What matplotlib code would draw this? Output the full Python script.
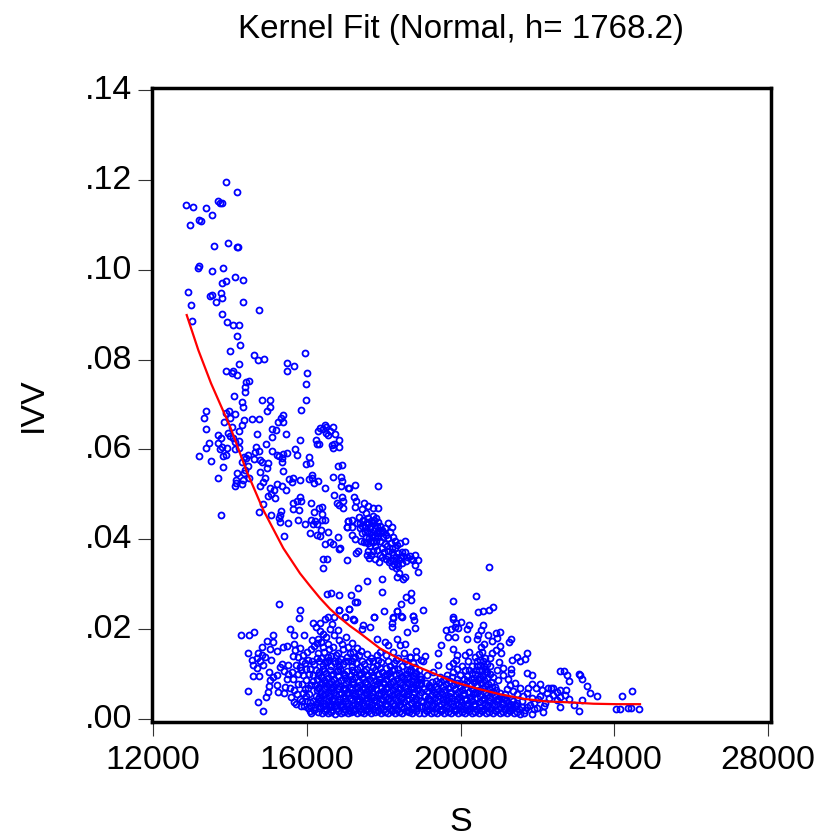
import matplotlib
matplotlib.use("Agg")
import matplotlib.pyplot as plt
from matplotlib.transforms import ScaledTranslation

plt.rcParams['font.family'] = ['Liberation Sans', 'DejaVu Sans']

# points above the main cloud, (S, IVV)
top_points = [
    (13891,.1196),(14178,.1172),(12851,.1143),(13041,.1139),(13379,.1137),(13699,.1152),(13751,.1149),(13803,.1149),
    (13527,.1122),(13205,.1111),(13249,.1109),(12970,.1099),(13579,.1053),(13959,.1059),(14178,.1050),(14211,.1051),
    (13205,.1009),(13163,.1004),(13543,.0998),(13829,.1003),(14126,.0984),(14350,.0976),(13803,.0971),(13899,.0974),
    (12919,.0950),(13483,.0941),(13543,.0943),(13777,.0949),(13795,.0937),(13647,.0928),(14350,.0927),(12996,.0921),
    (14758,.0910),(13803,.0901),(13007,.0886),(13933,.0884),(14082,.0877),(14230,.0877),(14186,.0852),(14271,.0833),
    (14011,.0820),(14636,.0810),(14724,.0799),(14880,.0802),(15955,.0815),(14238,.0789),(15487,.0792),(15669,.0786),
]

# steep left part of the cloud
middle_points = [
    (13891,.0775),(14073,.0775),(14047,.0769),(14177,.0765),(15496,.0775),(16003,.0769),(15990,.0745),(14411,.0751),
    (14507,.0752),(14394,.0738),(14403,.0728),(14108,.0718),(15981,.0711),(14845,.0709),(15045,.0709),(14307,.0705),
    (14342,.0694),(15045,.0694),(14967,.0685),(15843,.0687),(13388,.0685),(13336,.0671),(13891,.0680),(13978,.0686),
    (14143,.0678),(13995,.0669),(14377,.0665),(14576,.0668),(14767,.0668),(15392,.0677),(15322,.0669),(15262,.0660),
    (15383,.0662),(13856,.0660),(14325,.0654),(14047,.0649),(13371,.0646),(14238,.0642),(13943,.0637),(13683,.0631),
    (14698,.0635),(15105,.0645),(15201,.0643),(15461,.0635),(15097,.0627),(13761,.0625),(13700,.0615),(14004,.0630),
    (14073,.0625),(14134,.0617),(14229,.0619),(13449,.0614),(13388,.0604),(13206,.0585),(13518,.0575),(13787,.0606),
    (13744,.0600),(13934,.0603),(14134,.0601),(14247,.0604),(14947,.0612),(15817,.0622),(14680,.0605),(14758,.0597),
    (14654,.0595),(15105,.0597),(15695,.0600),(15756,.0587),(15487,.0593),(15383,.0590),(15287,.0585),(15218,.0588),
    (15348,.0580),(15357,.0572),(16059,.0583),(15990,.0567),(16094,.0570),(13813,.0585),(13900,.0588),(14360,.0582),
    (14481,.0587),(14411,.0580),(14307,.0572),(14481,.0562),(14628,.0578),(14784,.0576),(14836,.0572),(15001,.0570),
    (14967,.0559),(13830,.0560),(15392,.0553),(14394,.0554),(14368,.0548),(14784,.0549),(14186,.0548),(13683,.0537),
    (14490,.0536),(14151,.0531),(14351,.0532),(14325,.0522),(14125,.0519),(14160,.0525),(14915,.0536),(14863,.0528),
    (14784,.0518),(15218,.0524),(15045,.0515),(15158,.0509),(15366,.0519),(15461,.0509),(15001,.0497),(15062,.0500),
    (15184,.0491),(15530,.0534),(15634,.0537),(15608,.0528),(15817,.0532),(16068,.0535),(16146,.0544),(16190,.0526),
    (16137,.0536),(16294,.0530),(16467,.0515),(16684,.0539),(16901,.0539),(16927,.0529),(16901,.0518),(17074,.0515),
    (16823,.0562),(16910,.0565),(16710,.0498),(16927,.0494),(16788,.0480),(16953,.0486),(16840,.0476),(16935,.0470),
    (14871,.0479),(14750,.0460),(13770,.0454),(15079,.0454),(15331,.0463),(15296,.0454),(15279,.0447),(15314,.0438),
    (15504,.0436),(15634,.0481),(15825,.0493),(15738,.0486),(15860,.0485),(15652,.0467),(15808,.0465),(15773,.0444),
    (15955,.0435),(16103,.0481),(16406,.0472),(16328,.0470),(16198,.0460),(16389,.0457),(16103,.0444),(16398,.0442),
    (16484,.0442),(16216,.0441),(16155,.0434),(16259,.0435),(17066,.0440),(17057,.0428),(16380,.0421),(16545,.0417),
    (16086,.0413),(16276,.0409),(16354,.0408),(16805,.0406),(15409,.0407),(16476,.0390),(16597,.0394),(16693,.0390),
    (16857,.0380),(16476,.0654),(16354,.0648),(16294,.0640),(16693,.0650),(16502,.0636),(16562,.0632),(16745,.0634),
    (16831,.0621),(16840,.0606),(16233,.0620),(16276,.0613),(16311,.0612),(16649,.0610),(16675,.0604),(16718,.0613),
    (16431,.0645),(16510,.0650),(16600,.0641),
]

# dense bunch around S = 17700, IVV = .04, and what hangs below it
bunch_points = [
    (17846,.0519),(17256,.0521),(17091,.0514),(17221,.0493),(17282,.0486),(17499,.0480),(17594,.0474),(17430,.0467),
    (17265,.0471),(17716,.0470),(17846,.0470),(17551,.0459),(17352,.0449),(17169,.0444),(17083,.0441),(17039,.0428),
    (17169,.0428),(17299,.0436),(17386,.0424),(17473,.0443),(17603,.0447),(17716,.0452),(17802,.0447),(17863,.0439),
    (17733,.0436),(17603,.0434),(17516,.0428),(17646,.0424),(17776,.0424),(17907,.0430),(17950,.0421),(18123,.0436),
    (18210,.0427),(18167,.0417),(18037,.0424),(17430,.0413),(17542,.0406),(17690,.0410),(17169,.0409),(17256,.0400),
    (17412,.0397),(17516,.0417),(17863,.0406),(17993,.0406),(18123,.0402),(18253,.0404),(18297,.0397),(17907,.0397),
    (17733,.0395),(17603,.0392),(18037,.0390),(18184,.0391),(18427,.0392),(18557,.0396),(17646,.0384),(17776,.0385),
    (17950,.0380),(17603,.0375),(17716,.0375),(18123,.0375),(18297,.0380),(17577,.0365),(17907,.0365),(17967,.0361),
    (18123,.0363),(18253,.0365),(18167,.0354),(18253,.0354),(18384,.0369),(18470,.0372),(18557,.0372),(18496,.0363),
    (18687,.0363),(18817,.0365),(18886,.0353),(18704,.0356),(18817,.0343),(18583,.0351),(18410,.0354),(18340,.0345),
    (18384,.0341),(17889,.0349),(17282,.0370),(17343,.0373),(17039,.0354),(16848,.0378),(16432,.0357),(16519,.0357),
    (16415,.0335),(18886,.0328),(18410,.0324),(18340,.0315),(18557,.0315),(18496,.0311),(17950,.0312),(17568,.0308),
    (17325,.0292),(17950,.0283),(16519,.0279),(16623,.0280),(16848,.0276),(17152,.0276),(17299,.0260),(17256,.0260),
    (16840,.0243),(17109,.0245),(18019,.0241),(18358,.0241),(18444,.0255),(18583,.0272),(18722,.0280),(18704,.0264),
    (19017,.0242),(18453,.0229),(18765,.0230),(18253,.0226),(17750,.0226),(17213,.0223),(16996,.0227),(19815,.0262),
    (20404,.0273),(20751,.0339),(20855,.0249),(20743,.0243),(20587,.0241),(20464,.0238),(19797,.0226),(17700,.0405),
    (17820,.0415),(17470,.0440),(17560,.0418),(17660,.0440),(17780,.0408),(17860,.0420),(17620,.0402),(17480,.0395),
    (17380,.0437),(17450,.0429),(17560,.0439),(17610,.0415),(17680,.0430),(17750,.0442),(17830,.0430),(17900,.0413),
    (17990,.0416),(18060,.0409),(17540,.0395),(17660,.0397),(17800,.0396),(17830,.0377),(17680,.0366),(18010,.0372),
    (18090,.0385),(18210,.0381),(18350,.0387),(18230,.0372),(18060,.0357),(18310,.0361),(18420,.0360),(18470,.0348),
    (18280,.0345),(18620,.0361),(18760,.0354),(17620,.0358),(17770,.0356),(18130,.0349),(18210,.0340),(18330,.0336),
]

# loose points around the lower left cloud
lower_left_points = [
    (15287,.0255),(15825,.0243),(15807,.0225),(14289,.0188),(14498,.0187),(14636,.0194),(15113,.0188),(14957,.0174),
    (15122,.0171),(14844,.0161),(14463,.0147),(15053,.0155),(15235,.0151),(15391,.0161),(15478,.0163),(15573,.0200),
    (15677,.0186),(15920,.0186),(16154,.0214),(15668,.0168),(15825,.0157),(15694,.0154),(15634,.0141),(14740,.0148),
    (14827,.0142),(14914,.0139),(14697,.0135),(14567,.0131),(14784,.0128),(15070,.0131),(14610,.0120),(14870,.0120),
    (14714,.0113),(14610,.0096),(14758,.0096),(15018,.0104),(15235,.0098),(15365,.0122),(15044,.0087),(15304,.0116),
    (15131,.0094),(15009,.0073),(15217,.0076),(14480,.0063),(14983,.0059),(15261,.0061),(15408,.0057),(14931,.0048),
    (14740,.0038),(14870,.0018),(15521,.0120),(15608,.0105),(15521,.0100),(15634,.0088),(15434,.0071),(15668,.0065),
    (15564,.0068),(15668,.0038),(15720,.0034),(15850,.0029),(15825,.0045),(15911,.0057),(15781,.0079),(15911,.0098),
    (15825,.0116),(15781,.0139),(15911,.0142),(15955,.0124),(16041,.0068),(16085,.0038),(16041,.0131),(16128,.0176),
    (16301,.0179),(16345,.0213),(16475,.0222),(16562,.0226),(16839,.0243),(16709,.0228),(17108,.0245),(16995,.0226),
    (17238,.0220),(17455,.0210),(17438,.0200),(17655,.0205),(17759,.0226),(18253,.0224),(18210,.0213),(18210,.0204),
    (18357,.0241),(18470,.0228),(18773,.0229),(18790,.0220),(18817,.0202),(18600,.0194),(17828,.0177),(18036,.0171),
    (18123,.0165),(18340,.0179),(18426,.0165),(18556,.0167),(17819,.0142),(16430,.0190),(16610,.0200),(16720,.0187),
    (16200,.0162),(16380,.0172),(16540,.0168),(16690,.0160),(16850,.0175),(17010,.0183),(17190,.0170),(17300,.0158),
    (16140,.0128),(16290,.0146),(16460,.0150),(16640,.0140),(16800,.0148),(16950,.0155),(17120,.0147),(17260,.0138),
    (17420,.0152),(17580,.0144),(17720,.0130),(17900,.0150),(18060,.0142),(18240,.0150),(18380,.0136),(18530,.0146),
    (18690,.0139),(18850,.0152),(18980,.0132),(16250,.0205),(16340,.0196),(16500,.0182),(16660,.0212),(16800,.0198),
    (16910,.0166),(17080,.0160),(16260,.0170),(16420,.0160),(16580,.0155),(16750,.0142),(17200,.0150),(17350,.0143),
    (16360,.0135),(16480,.0127),(16590,.0132),(16700,.0128),(16880,.0133),(17040,.0137),(17170,.0130),(15870,.0078),
    (15990,.0087),(15980,.0052),(16060,.0100),(15940,.0030),(16020,.0024),(16080,.0018),(15780,.0100),(15720,.0120),
    (15740,.0056),(15600,.0050),(15490,.0088),(15420,.0107),(15860,.0110),(15970,.0112),(16010,.0150),(16100,.0155),
    (15960,.0066),(16060,.0056),(15880,.0040),(16000,.0040),(16100,.0076),(16110,.0030),(16080,.0112),(15880,.0130),
]

# solid part of the cloud, S from 16000 to 19000
dense_left_points = [
    (16120,.0014),(16280,.0016),(16390,.0013),(16470,.0018),(16560,.0014),(16640,.0016),(16730,.0012),(16810,.0017),
    (16900,.0014),(16980,.0016),(17060,.0013),(17150,.0015),(17240,.0018),(17320,.0013),(17410,.0016),(17500,.0014),
    (17590,.0017),(17680,.0013),(17770,.0015),(17850,.0018),(17940,.0014),(18030,.0016),(18120,.0013),(18210,.0017),
    (18300,.0014),(18390,.0016),(18480,.0013),(18570,.0018),(18660,.0015),(18750,.0013),(18840,.0017),(18930,.0014),
    (16210,.0027),(16320,.0024),(16430,.0029),(16510,.0023),(16610,.0026),(16700,.0030),(16790,.0024),(16870,.0028),
    (16960,.0023),(17050,.0029),(17130,.0025),(17220,.0022),(17300,.0028),(17390,.0024),(17470,.0030),(17560,.0023),
    (17650,.0027),(17730,.0022),(17820,.0029),(17910,.0025),(18000,.0023),(18090,.0028),(18170,.0024),(18260,.0030),
    (18350,.0023),(18440,.0027),(18520,.0024),(18610,.0029),(18700,.0022),(18790,.0027),(18880,.0024),(18970,.0029),
    (16170,.0040),(16260,.0035),(16350,.0041),(16450,.0036),(16540,.0039),(16630,.0034),(16720,.0041),(16810,.0037),
    (16900,.0033),(16990,.0040),(17080,.0036),(17170,.0042),(17260,.0034),(17350,.0039),(17440,.0035),(17530,.0041),
    (17620,.0037),(17710,.0033),(17800,.0040),(17890,.0036),(17980,.0042),(18070,.0034),(18160,.0039),(18250,.0035),
    (18340,.0041),(18430,.0033),(18520,.0038),(18610,.0042),(18700,.0035),(18790,.0039),(18880,.0033),(18970,.0041),
    (16230,.0052),(16330,.0048),(16420,.0054),(16500,.0046),(16590,.0051),(16680,.0047),(16770,.0053),(16860,.0045),
    (16950,.0050),(17040,.0055),(17130,.0047),(17220,.0052),(17310,.0045),(17400,.0050),(17490,.0054),(17580,.0046),
    (17670,.0052),(17760,.0048),(17850,.0054),(17940,.0045),(18030,.0050),(18120,.0047),(18210,.0053),(18300,.0046),
    (18390,.0052),(18480,.0048),(18570,.0054),(18660,.0045),(18750,.0050),(18840,.0047),(18930,.0053),
    (16150,.0085),(16260,.0064),(16360,.0060),(16450,.0067),(16540,.0059),(16630,.0065),(16720,.0061),(16810,.0067),
    (16900,.0058),(16990,.0064),(17080,.0060),(17170,.0066),(17260,.0058),(17350,.0063),(17440,.0067),(17530,.0059),
    (17620,.0065),(17710,.0060),(17800,.0067),(17890,.0058),(17980,.0063),(18070,.0066),(18160,.0059),(18250,.0064),
    (18340,.0060),(18430,.0067),(18520,.0058),(18610,.0063),(18700,.0066),(18790,.0059),(18880,.0064),(18970,.0061),
    (16220,.0076),(16310,.0072),(16400,.0079),(16490,.0073),(16580,.0077),(16670,.0071),(16760,.0078),(16850,.0074),
    (16940,.0070),(17030,.0077),(17120,.0072),(17210,.0079),(17300,.0071),(17390,.0076),(17480,.0072),(17570,.0078),
    (17660,.0070),(17750,.0075),(17840,.0079),(17930,.0072),(18020,.0077),(18110,.0071),(18200,.0078),(18290,.0073),
    (18380,.0070),(18470,.0076),(18560,.0072),(18650,.0078),(18740,.0071),(18830,.0075),(18920,.0079),
    (16170,.0098),(16270,.0088),(16360,.0093),(16450,.0086),(16540,.0092),(16630,.0084),(16720,.0090),(16810,.0095),
    (16900,.0086),(16990,.0092),(17080,.0084),(17170,.0089),(17260,.0094),(17350,.0085),(17440,.0091),(17530,.0083),
    (17620,.0088),(17710,.0093),(17800,.0085),(17890,.0090),(17980,.0083),(18070,.0088),(18160,.0093),(18250,.0085),
    (18340,.0090),(18430,.0083),(18520,.0088),(18610,.0092),(18700,.0084),(18790,.0089),(18880,.0083),(18970,.0088),
    (16240,.0110),(16330,.0104),(16420,.0112),(16510,.0102),(16600,.0108),(16690,.0100),(16780,.0106),(16870,.0112),
    (16960,.0101),(17050,.0107),(17140,.0099),(17230,.0105),(17320,.0111),(17410,.0101),(17500,.0106),(17590,.0098),
    (17680,.0104),(17770,.0110),(17860,.0100),(17950,.0105),(18040,.0097),(18130,.0103),(18220,.0108),(18310,.0098),
    (18400,.0103),(18490,.0096),(18580,.0101),(18670,.0106),(18760,.0097),(18850,.0102),(18940,.0095),
    (16200,.0122),(16310,.0130),(16410,.0120),(16520,.0127),(16620,.0118),(16730,.0125),(16840,.0117),(16950,.0123),
    (17060,.0129),(17170,.0118),(17280,.0125),(17390,.0116),(17500,.0122),(17610,.0128),(17720,.0115),(17830,.0121),
    (17940,.0126),(18050,.0113),(18160,.0119),(18270,.0124),(18380,.0112),(18490,.0117),(18600,.0122),(18710,.0110),
    (18820,.0115),(18930,.0108),
    # second pass through the same block, where the rings run together
    (16180,.0020),(16350,.0030),(16500,.0032),(16660,.0021),(16760,.0032),(16940,.0030),(17100,.0020),(17190,.0032),
    (17360,.0031),(17520,.0019),(17680,.0032),(17860,.0021),(18040,.0031),(18230,.0020),(18410,.0032),(18640,.0019),
    (18830,.0031),(16300,.0044),(16480,.0056),(16650,.0043),(16830,.0056),(17000,.0046),(17190,.0057),(17370,.0044),
    (17560,.0056),(17740,.0043),(17930,.0056),(18110,.0044),(18280,.0056),(18460,.0044),(18640,.0056),(18820,.0044),
    (16290,.0068),(16470,.0081),(16640,.0070),(16820,.0082),(17000,.0069),(17180,.0082),(17340,.0069),(17520,.0082),
    (17700,.0069),(17880,.0082),(18060,.0069),(18240,.0082),(18420,.0069),(18600,.0082),(18780,.0068),(18960,.0080),
    (16280,.0097),(16460,.0106),(16640,.0097),(16820,.0108),(17000,.0098),(17180,.0110),(17360,.0097),(17540,.0112),
    (17720,.0099),(17900,.0113),(18080,.0097),(18260,.0111),(18440,.0093),(18620,.0110),(18800,.0096),
    (16260,.0136),(16560,.0138),(16800,.0130),(17000,.0128),(17200,.0136),(17440,.0130),(17660,.0136),(17860,.0132),
    (18120,.0128),(18320,.0132),(18560,.0128),(18760,.0124),
]

# solid part of the cloud, S from 19000 up
dense_right_points = [
    (19040,.0014),(19130,.0017),(19220,.0013),(19310,.0016),(19400,.0014),(19490,.0018),(19580,.0013),(19670,.0016),
    (19760,.0014),(19850,.0017),(19940,.0013),(20030,.0016),(20120,.0014),(20210,.0018),(20300,.0013),(20390,.0016),
    (20480,.0014),(20570,.0017),(20660,.0013),(20750,.0016),(20840,.0014),(20930,.0017),(21020,.0013),(21110,.0016),
    (21200,.0014),(21290,.0017),(21380,.0013),(21470,.0016),
    (19080,.0027),(19170,.0023),(19260,.0029),(19350,.0024),(19440,.0028),(19530,.0022),(19620,.0027),(19710,.0024),
    (19800,.0030),(19890,.0023),(19980,.0027),(20070,.0022),(20160,.0029),(20250,.0024),(20340,.0028),(20430,.0023),
    (20520,.0027),(20610,.0022),(20700,.0029),(20790,.0024),(20880,.0028),(20970,.0023),(21060,.0027),(21150,.0022),
    (21240,.0029),(21330,.0024),(21420,.0028),(21510,.0023),(21600,.0027),
    (19030,.0038),(19120,.0034),(19210,.0041),(19300,.0036),(19390,.0040),(19480,.0033),(19570,.0038),(19660,.0042),
    (19750,.0035),(19840,.0040),(19930,.0034),(20020,.0039),(20110,.0042),(20200,.0035),(20290,.0040),(20380,.0033),
    (20470,.0038),(20560,.0042),(20650,.0035),(20740,.0040),(20830,.0034),(20920,.0039),(21010,.0042),(21100,.0035),
    (21190,.0040),(21280,.0034),(21370,.0039),(21460,.0035),
    (19070,.0052),(19160,.0047),(19250,.0054),(19340,.0046),(19430,.0051),(19520,.0055),(19610,.0047),(19700,.0052),
    (19790,.0046),(19880,.0054),(19970,.0048),(20060,.0053),(20150,.0045),(20240,.0050),(20330,.0055),(20420,.0047),
    (20510,.0052),(20600,.0046),(20690,.0054),(20780,.0048),(20870,.0053),(20960,.0045),(21050,.0050),(21140,.0046),
    (19040,.0067),(19130,.0062),(19220,.0069),(19310,.0060),(19400,.0066),(19490,.0059),(19580,.0065),(19670,.0070),
    (19760,.0061),(19850,.0067),(19940,.0059),(20030,.0065),(20120,.0070),(20210,.0061),(20300,.0067),(20390,.0059),
    (20480,.0065),(20570,.0070),(20660,.0061),(20750,.0067),(20840,.0059),(20930,.0065),
    (19090,.0081),(19180,.0076),(19270,.0083),(19360,.0074),(19450,.0080),(19540,.0073),(19630,.0079),(19720,.0085),
    (19810,.0075),(19900,.0081),(19990,.0074),(20080,.0079),(20170,.0085),(20260,.0076),(20350,.0082),(20440,.0075),
    (20530,.0080),(20620,.0086),(20710,.0077),(20800,.0083),
    (20300,.0118),(20440,.0128),(20560,.0110),(20640,.0135),(20700,.0122),(20480,.0145),(20570,.0150),(20650,.0112),
    (20220,.0108),(20370,.0100),(20050,.0118),(19920,.0112),(20590,.0095),(20760,.0100),(20960,.0110),(20480,.0108),
    # second pass through the same block
    (19090,.0020),(19280,.0031),(19460,.0021),(19640,.0032),(19820,.0020),(20000,.0032),(20180,.0020),(20360,.0033),
    (20540,.0020),(20720,.0032),(20900,.0020),(21080,.0033),(21260,.0020),(21440,.0031),(19180,.0045),(19360,.0056),
    (19540,.0044),(19720,.0057),(19900,.0044),(20080,.0057),(20260,.0044),(20440,.0057),(20620,.0044),(20800,.0057),
    (20980,.0044),(21160,.0056),(21340,.0045),(19190,.0072),(19370,.0084),(19550,.0086),(19730,.0072),(19910,.0090),
    (20090,.0088),(20270,.0090),(20450,.0086),(20630,.0074),(20810,.0072),(19620,.0090),(19780,.0093),(20180,.0096),
    (20340,.0092),(20410,.0108),(20500,.0120),(20590,.0128),(20520,.0090),(20700,.0092),(20660,.0104),(20610,.0118),
]

right_points = [
    (19797,.0223),(20005,.0217),(20231,.0209),(20161,.0200),(19615,.0198),(19745,.0200),(19858,.0205),(19945,.0202),
    (19884,.0213),(19684,.0182),(19858,.0182),(20161,.0178),(19485,.0164),(19424,.0147),(19814,.0155),(19901,.0143),
    (19086,.0141),(19034,.0128),(18843,.0138),(18687,.0139),(19424,.0120),(20595,.0210),(20526,.0198),(20465,.0187),
    (20421,.0178),(20725,.0186),(20925,.0192),(21037,.0193),(20959,.0180),(20812,.0174),(20612,.0167),(21315,.0177),
    (21263,.0172),(21029,.0162),(20526,.0160),(20231,.0150),(20118,.0142),(20925,.0153),(20812,.0146),(21046,.0146),
    (21740,.0147),(21462,.0139),(21679,.0134),(21549,.0130),(21332,.0131),(21003,.0127),(20768,.0135),(20378,.0139),
    (20508,.0131),(19884,.0131),(19814,.0124),(19710,.0119),(20205,.0129),(21098,.0114),(20768,.0117),(21315,.0111),
    (21315,.0103),(21723,.0103),(21853,.0097),(22590,.0107),(22703,.0107),(22763,.0097),(22833,.0084),(23084,.0101),
    (23110,.0098),(23154,.0090),(23301,.0073),(23379,.0057),(23544,.0051),(23171,.0043),(22946,.0032),(23084,.0017),
    (22590,.0027),(22815,.0044),(24203,.0052),(24463,.0063),(24047,.0023),(24151,.0023),(24368,.0025),(24429,.0025),
    (24637,.0023),(22737,.0065),(22503,.0061),(22416,.0070),(22347,.0070),(22590,.0065),(22286,.0068),(22070,.0078),
    (21853,.0078),(21766,.0068),(21965,.0070),(22113,.0065),(22260,.0057),(22416,.0053),(22590,.0050),(22720,.0053),
    (22200,.0035),(22156,.0016),(22503,.0042),(21723,.0057),(21549,.0068),(21419,.0081),(21245,.0090),(21202,.0066),
    (21376,.0062),(21853,.0046),(22026,.0044),(21592,.0040),(21809,.0031),(21983,.0024),(21549,.0012),(21853,.0012),
    (21679,.0021),(21289,.0027),(21159,.0046),(21029,.0057),(20899,.0072),(20986,.0087),(21115,.0098),(20855,.0094),
    (20682,.0105),(20508,.0094),(20421,.0117),(20291,.0102),(20118,.0109),(19988,.0098),(19814,.0105),(19641,.0098),
    (19468,.0094),(19294,.0105),(19121,.0098),(18947,.0090),(18817,.0102),(21650,.0014),(21720,.0027),(21920,.0036),
    (22080,.0052),(21620,.0052),(21480,.0055),(21280,.0076),(22160,.0030),(21900,.0022),(22300,.0046),
]

fit_s = [12877, 13179, 13510, 14004, 14438, 14870, 15391, 15825, 16085, 16345, 16605, 16866, 17126, 17386, 17906,
         18427, 18947, 19208, 19815, 20423, 21029, 21636, 22243, 22850, 23457, 24063, 24670]
fit_ivv = [.0899, .0821, .0747, .0651, .0551, .0465, .0380, .0324, .0296, .0269, .0245, .0225, .0207, .0191, .0157,
           .0133, .0114, .0105, .0083, .0068, .0055, .0045, .0039, .0037, .0034, .0033, .0033]

x_ticks = [12000, 16000, 20000, 24000, 28000]
y_ticks = [0, .02, .04, .06, .08, .10, .12, .14]
y_labels = ['.00', '.02', '.04', '.06', '.08', '.10', '.12', '.14']

W, H = 817, 833
fig = plt.figure(figsize=(W / 100, H / 100), dpi=100)
ax = fig.add_axes([151.7 / W, 1 - 721.7 / H, (770.7 - 151.7) / W, (721.7 - 87.7) / H])

groups = [top_points, middle_points, bunch_points, lower_left_points,
          dense_left_points, dense_right_points, right_points]
for pts in groups:
    s, ivv = zip(*pts)
    ax.plot(s, ivv, linestyle='none', marker='o', markersize=4.3, markerfacecolor='none',
            markeredgecolor='#0000ff', markeredgewidth=1.3, clip_on=False)

ax.plot(fit_s, fit_ivv, color='#ff0000', linewidth=1.6, zorder=5)

ax.set_xlim(11966, 28070)
ax.set_ylim(-.0006, .1405)
ax.set_xticks(x_ticks)
ax.set_yticks(y_ticks)
ax.set_yticklabels(y_labels)
ax.tick_params(length=10, width=0.8, color='#333333', labelsize=24.5)
ax.tick_params(axis='x', pad=6.5)
ax.tick_params(axis='y', pad=4)
for spine in ax.spines.values():
    spine.set_linewidth(2.5)

# value labels sit a little above their ticks in the original
up = ScaledTranslation(0, 3 / 72 * 0.72, fig.dpi_scale_trans)
for label in ax.get_yticklabels():
    label.set_transform(label.get_transform() + up)

ax.set_title('Kernel Fit (Normal, h= 1768.2)', fontsize=23.9, x=(461 - 151.7) / (770.7 - 151.7), y=1, pad=36)
ax.set_xlabel('S', fontsize=24.5, labelpad=22.5)
ax.set_ylabel('IVV', fontsize=24.5, labelpad=26)

fig.savefig('out.png', dpi=100)
